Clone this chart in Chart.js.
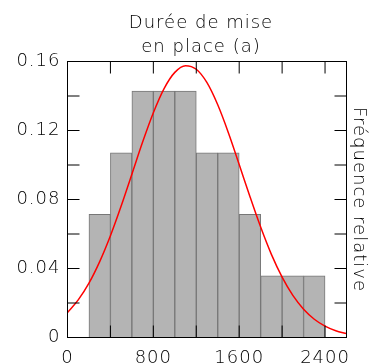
<!DOCTYPE html>
<html>
<head>
<meta charset="utf-8">
<script src="https://cdn.jsdelivr.net/npm/chart.js@4"></script>
<style>
  html, body { margin: 0; padding: 0; background: #fff; }
  canvas { display: block; }
</style>
</head>
<body>
<canvas id="histo" width="371" height="363"></canvas>
<script>
// histogram bins (bin centres, width 200) and relative frequency
const binCenters = [300, 500, 700, 900, 1100, 1300, 1500, 1700, 1900, 2100, 2300];
const relFreq = [0.0714, 0.1071, 0.1429, 0.1429, 0.1429, 0.1071, 0.1071, 0.0714, 0.0357, 0.0357, 0.0357];

// fitted curve
const curveX = [0, 100, 200, 300, 400, 500, 600, 700, 800, 900, 1000, 1100, 1200, 1300,
  1400, 1500, 1600, 1700, 1800, 1900, 2000, 2100, 2200, 2300, 2400, 2500, 2600];
const curveY = [0.0145, 0.0218, 0.0315, 0.0440, 0.0590, 0.0762, 0.0947, 0.1133, 0.1303,
  0.1443, 0.1537, 0.1576, 0.1555, 0.1477, 0.1349, 0.1186, 0.1003, 0.0817, 0.0640,
  0.0482, 0.0350, 0.0244, 0.0164, 0.0106, 0.0066, 0.0039, 0.0023];

const xTicks = [0, 800, 1600, 2400];
const yTicks = [0, 0.04, 0.08, 0.12, 0.16];
const titleLines = ["Durée de mise", "en place (a)"];
const yTitle = "Fréquence relative";

const FONT = "DejaVu Sans";
const WEIGHT = 200;
const INK = "#000000";

// frame + inside tick marks on all four sides, and the title
const framePlugin = {
  id: "frame",
  beforeDraw(chart) {
    chart.ctx.letterSpacing = "1px";
  },
  afterDatasetsDraw(chart) {
    const { ctx, chartArea: a, scales } = chart;
    const len = 12;
    ctx.save();
    ctx.strokeStyle = "#000";
    ctx.lineWidth = 1;
    ctx.beginPath();
    for (let v = 0; v <= 2600; v += 400) {
      const px = scales.x.getPixelForValue(v);
      ctx.moveTo(px, a.top); ctx.lineTo(px, a.top + len);
      ctx.moveTo(px, a.bottom); ctx.lineTo(px, a.bottom - len);
    }
    for (let v = 0.02; v < 0.16; v += 0.02) {
      const py = scales.y.getPixelForValue(v);
      ctx.moveTo(a.left, py); ctx.lineTo(a.left + len, py);
      ctx.moveTo(a.right, py); ctx.lineTo(a.right - len, py);
    }
    ctx.stroke();
    ctx.strokeRect(a.left, a.top, a.right - a.left, a.bottom - a.top);
    ctx.restore();
  },
  afterDraw(chart) {
    const ctx = chart.ctx;
    ctx.save();
    ctx.font = WEIGHT + " 18px '" + FONT + "'";
    ctx.fillStyle = INK;
    ctx.textAlign = "center";
    ctx.textBaseline = "alphabetic";
    ctx.fillText(titleLines[0], 201, 28);
    ctx.fillText(titleLines[1], 201, 52);
    ctx.restore();
  },
};

new Chart(document.getElementById("histo"), {
  data: {
    datasets: [
      {
        type: "line",
        data: curveX.map((x, i) => ({ x, y: curveY[i] })),
        borderColor: "#ff0000",
        borderWidth: 1.5,
        pointRadius: 0,
        cubicInterpolationMode: "monotone",
        order: 0,
      },
      {
        type: "bar",
        data: binCenters.map((x, i) => ({ x, y: relFreq[i] })),
        backgroundColor: "#b4b4b4",
        borderColor: "#777777",
        borderWidth: 1,
        barPercentage: 1,
        categoryPercentage: 1,
        order: 1,
      },
    ],
  },
  options: {
    responsive: false,
    animation: false,
    layout: { padding: { top: 61.5, left: 0, right: 0, bottom: 0 } },
    plugins: { legend: { display: false }, tooltip: { enabled: false } },
    scales: {
      x: {
        type: "linear",
        min: 0,
        max: 2600,
        offset: false,
        grid: { display: false, drawTicks: false, offset: false },
        border: { display: false },
        afterBuildTicks: (s) => { s.ticks = xTicks.map((v) => ({ value: v })); },
        afterFit: (s) => { s.height = 25.5; },
        ticks: {
          padding: 10,
          maxRotation: 0,
          color: INK,
          font: { family: FONT, size: 18, weight: WEIGHT },
          callback: (v) => String(v),
        },
      },
      y: {
        type: "linear",
        position: "left",
        min: 0,
        max: 0.16,
        grid: { display: false, drawTicks: false },
        border: { display: false },
        afterBuildTicks: (s) => { s.ticks = yTicks.map((v) => ({ value: v })); },
        afterFit: (s) => { s.width = 67.5; },
        ticks: {
          padding: 7,
          color: INK,
          font: { family: FONT, size: 18, weight: WEIGHT },
          callback: (v) => String(v),
        },
      },
      y2: {
        type: "linear",
        position: "right",
        min: 0,
        max: 0.16,
        grid: { display: false, drawTicks: false },
        border: { display: false },
        ticks: { display: false },
        afterFit: (s) => { s.width = 24.5; },
        title: {
          display: true,
          text: yTitle,
          color: INK,
          font: { family: FONT, size: 18, weight: WEIGHT },
          padding: { top: 2, bottom: 0 },
        },
      },
    },
  },
  plugins: [framePlugin],
});
</script>
</body>
</html>
